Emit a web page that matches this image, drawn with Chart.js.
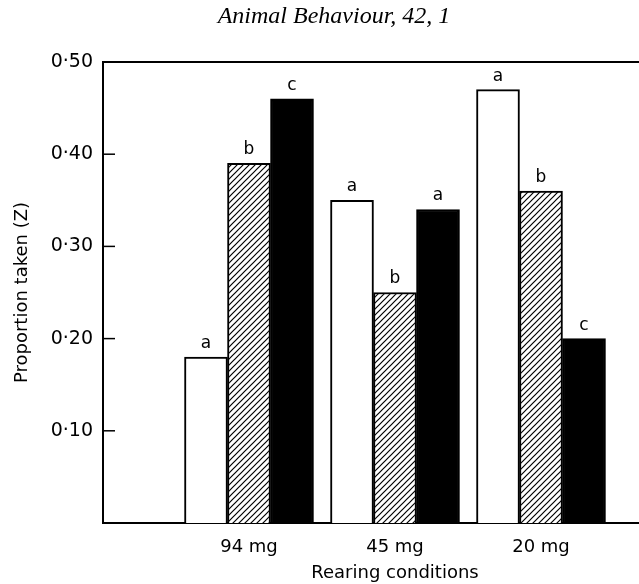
<!DOCTYPE html>
<html>
<head>
<meta charset="utf-8">
<script src="https://cdn.jsdelivr.net/npm/chart.js@4"></script>
<style>
  html, body { margin: 0; padding: 0; background: #fff; overflow: hidden; }
  #wrap { width: 690px; height: 584px; }
</style>
</head>
<body>
<div id="wrap"><canvas id="chart" width="690" height="584"></canvas></div>
<script>
// rearing conditions, positions 1..3 on a linear x axis (0 = y axis)
const categories = ['94 mg', '45 mg', '20 mg'];
const categoryPos = [1, 2, 3];

// proportion taken for the three prey types (white / hatched / black bars)
const whiteValues = [0.18, 0.35, 0.47];
const hatchedValues = [0.39, 0.25, 0.36];
const blackValues = [0.46, 0.34, 0.20];

// significance letters above each bar
const whiteLetters = ['a', 'a', 'a'];
const hatchedLetters = ['b', 'b', 'b'];
const blackLetters = ['c', 'a', 'c'];

const yTicks = [0.1, 0.2, 0.3, 0.4, 0.5];

function makeHatch() {
    const n = 6;
    const c = document.createElement('canvas');
    c.width = n; c.height = n;
    const g = c.getContext('2d');
    g.fillStyle = '#fff';
    g.fillRect(0, 0, n, n);
    g.strokeStyle = '#000';
    g.lineWidth = 1.2;
    g.beginPath();
    g.moveTo(-1, n + 1); g.lineTo(n + 1, -1);
    g.moveTo(-1, 1); g.lineTo(1, -1);
    g.moveTo(n - 1, n + 1); g.lineTo(n + 1, n - 1);
    g.stroke();
    return document.getElementById('chart').getContext('2d').createPattern(c, 'repeat');
}

function toPoints(values) {
    return values.map((v, i) => ({ x: categoryPos[i], y: v }));
}

const fontName = '"DejaVu Sans", "Liberation Sans", sans-serif';

const extras = {
    id: 'extras',
    afterDraw(chart) {
        const ctx = chart.ctx;
        const area = chart.chartArea;
        const y = chart.scales.y;
        ctx.save();
        ctx.strokeStyle = '#000';
        ctx.lineWidth = 2;
        // top frame line
        ctx.beginPath();
        ctx.moveTo(area.left, area.top);
        ctx.lineTo(area.right, area.top);
        ctx.stroke();
        // inward tick marks
        ctx.lineWidth = 1.5;
        yTicks.forEach(t => {
            const py = y.getPixelForValue(t);
            ctx.beginPath();
            ctx.moveTo(area.left, py);
            ctx.lineTo(area.left + 12, py);
            ctx.stroke();
        });
        // letters above bars
        ctx.fillStyle = '#000';
        ctx.font = '17px ' + fontName;
        ctx.textAlign = 'center';
        ctx.textBaseline = 'bottom';
        const letterSets = [whiteLetters, hatchedLetters, blackLetters];
        letterSets.forEach((letters, d) => {
            chart.getDatasetMeta(d).data.forEach((bar, i) => {
                ctx.fillText(letters[i], bar.x, bar.y - 5);
            });
        });
        // header
        ctx.font = 'italic 24px "Liberation Serif", "DejaVu Serif", serif';
        ctx.textBaseline = 'middle';
        ctx.fillText('Animal Behaviour, 42, 1', 334, 17);
        ctx.restore();
    }
};

const ctx = document.getElementById('chart').getContext('2d');
new Chart(ctx, {
    type: 'bar',
    data: {
        datasets: [
            { data: toPoints(whiteValues), backgroundColor: '#fff', borderColor: '#000', borderWidth: 2 },
            { data: toPoints(hatchedValues), backgroundColor: makeHatch(), borderColor: '#000', borderWidth: 2 },
            { data: toPoints(blackValues), backgroundColor: '#000', borderColor: '#000', borderWidth: 2 }
        ]
    },
    options: {
        responsive: false,
        animation: false,
        devicePixelRatio: 1,
        layout: { padding: { top: 62, right: 3, left: 0, bottom: 0 } },
        barThickness: 43,
        plugins: { legend: { display: false }, tooltip: { enabled: false } },
        scales: {
            x: {
                type: 'linear',
                offset: false,
                min: 0,
                max: 4,
                grid: { display: false, drawTicks: false, offset: false },
                border: { color: '#000', width: 2 },
                afterBuildTicks: s => { s.ticks = categoryPos.map(v => ({ value: v })); },
                ticks: {
                    padding: 14,
                    color: '#000',
                    font: { family: fontName, size: 18 },
                    callback: v => categories[categoryPos.indexOf(v)] || ''
                },
                title: {
                    display: true,
                    text: 'Rearing conditions',
                    color: '#000',
                    font: { family: fontName, size: 18 },
                    padding: { top: 2, bottom: 0 }
                },
                afterFit: s => { s.height = 61; }
            },
            y: {
                min: 0,
                max: 0.5,
                grid: { display: false, drawTicks: false },
                border: { color: '#000', width: 2 },
                afterBuildTicks: s => { s.ticks = yTicks.map(v => ({ value: v })); },
                ticks: {
                    padding: 10,
                    color: '#000',
                    font: { family: fontName, size: 19 },
                    callback: v => v.toFixed(2).replace('.', '·')
                },
                title: {
                    display: true,
                    text: 'Proportion taken (Z)',
                    color: '#000',
                    font: { family: fontName, size: 18 },
                    padding: { top: 12, bottom: 0 }
                },
                afterFit: s => { s.width = 103; }
            }
        }
    },
    plugins: [extras]
});
</script>
</body>
</html>
